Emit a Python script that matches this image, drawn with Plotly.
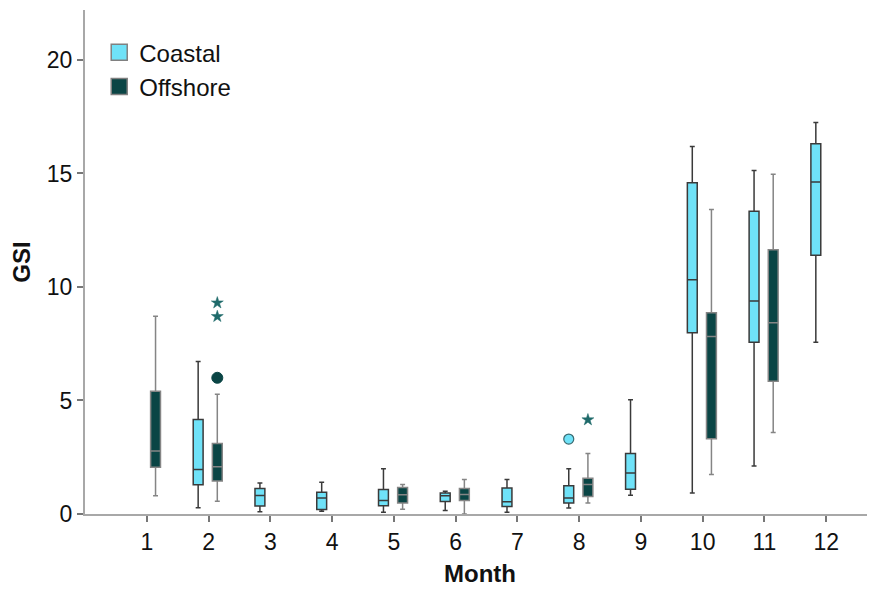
import plotly.graph_objects as go

# ---- data ----
coastal_months = [2, 3, 4, 5, 6, 7, 8, 9, 10, 11, 12]
coastal_lower  = [0.27, 0.10, 0.12, 0.08, 0.15, 0.08, 0.26, 0.83, 0.92, 2.11, 7.56]
coastal_q1     = [1.29, 0.35, 0.20, 0.36, 0.55, 0.33, 0.48, 1.09, 7.98, 7.57, 11.40]
coastal_median = [1.96, 0.81, 0.70, 0.59, 0.80, 0.54, 0.71, 1.81, 10.32, 9.38, 14.62]
coastal_q3     = [4.16, 1.12, 0.96, 1.08, 0.93, 1.14, 1.24, 2.67, 14.59, 13.33, 16.31]
coastal_upper  = [6.72, 1.37, 1.40, 1.99, 1.00, 1.52, 1.99, 5.03, 16.19, 15.13, 17.25]

offshore_months = [1, 2, 5, 6, 8, 10, 11]
offshore_lower  = [0.80, 0.56, 0.21, 0.00, 0.48, 1.74, 3.59]
offshore_q1     = [2.06, 1.45, 0.48, 0.59, 0.77, 3.31, 5.85]
offshore_median = [2.77, 2.08, 0.85, 0.86, 1.30, 7.82, 8.42]
offshore_q3     = [5.41, 3.11, 1.17, 1.12, 1.58, 8.86, 11.64]
offshore_upper  = [8.71, 5.28, 1.30, 1.52, 2.67, 13.41, 14.96]

# outliers (circles) and extremes (stars)
coastal_out_months = [8]
coastal_out_values = [3.30]
offshore_out_months = [2]
offshore_out_values = [6.00]
offshore_ext_months = [2, 2, 8]
offshore_ext_values = [9.30, 8.70, 4.15]

month_ticks = list(range(1, 13))
y_ticks = [0, 5, 10, 15, 20]

COASTAL_FILL = "#6fe2f8"
OFFSHORE_FILL = "#0a4545"
C_OFF = -0.168
O_OFF = 0.142
BW = 0.16

fig = go.Figure()

fig.add_trace(go.Box(
    name="Coastal", showlegend=False,
    x=[m + C_OFF for m in coastal_months],
    q1=coastal_q1, median=coastal_median, q3=coastal_q3,
    lowerfence=coastal_lower, upperfence=coastal_upper,
    width=BW, whiskerwidth=0.5,
    fillcolor=COASTAL_FILL,
    line=dict(color="#3a3a3a", width=1.5),
    boxpoints=False, hoverinfo="skip",
))
fig.add_trace(go.Box(
    name="Offshore", showlegend=False,
    x=[m + O_OFF for m in offshore_months],
    q1=offshore_q1, median=offshore_median, q3=offshore_q3,
    lowerfence=offshore_lower, upperfence=offshore_upper,
    width=BW, whiskerwidth=0.5,
    fillcolor=OFFSHORE_FILL,
    line=dict(color="#858585", width=1.5),
    boxpoints=False, hoverinfo="skip",
))

fig.add_trace(go.Scatter(
    x=[m + C_OFF for m in coastal_out_months], y=coastal_out_values,
    mode="markers", showlegend=False, hoverinfo="skip",
    marker=dict(symbol="circle", size=10, color=COASTAL_FILL,
                line=dict(color="#3a6a70", width=1.2)),
))
fig.add_trace(go.Scatter(
    x=[m + O_OFF for m in offshore_out_months], y=offshore_out_values,
    mode="markers", showlegend=False, hoverinfo="skip",
    marker=dict(symbol="circle", size=11, color=OFFSHORE_FILL,
                line=dict(color=OFFSHORE_FILL, width=1)),
))
fig.add_trace(go.Scatter(
    x=[m + O_OFF for m in offshore_ext_months], y=offshore_ext_values,
    mode="markers", showlegend=False, hoverinfo="skip",
    marker=dict(symbol="star", size=9, color="#1f6a6a",
                line=dict(color="#1f6a6a", width=0.5)),
))

# legend swatches
for name, col in [("Coastal", COASTAL_FILL), ("Offshore", OFFSHORE_FILL)]:
    fig.add_trace(go.Scatter(
        x=[None], y=[None], name=name, mode="markers", hoverinfo="skip",
        marker=dict(symbol="square", size=20, color=col,
                    line=dict(color="#808080", width=1.5)),
    ))

axis_line = dict(showline=True, linecolor="#a8a8a8", linewidth=2,
                 ticks="outside", ticklen=6, tickcolor="#777", tickwidth=1.5,
                 showgrid=False, zeroline=False, tickfont=dict(size=23))

# the page body adds an 8px margin, so the figure is sized to fill the rest
fig.update_layout(
    width=867, height=581,
    margin=dict(l=77, r=0, t=2, b=75),
    paper_bgcolor="white", plot_bgcolor="white",
    font=dict(family="Liberation Sans, Arial, sans-serif", size=22, color="#111111"),
    showlegend=True,
    legend=dict(x=0.018, y=0.96, xanchor="left", yanchor="top",
                bgcolor="rgba(0,0,0,0)", font=dict(size=24),
                itemsizing="trace", tracegroupgap=0, itemwidth=30),
    xaxis=dict(range=[0, 12.79], tickmode="array", tickvals=month_ticks,
               ticktext=[str(m) for m in month_ticks],
               title=dict(text="<b>Month</b>", standoff=12, font=dict(size=24)),
               **axis_line),
    yaxis=dict(range=[0, 22.2], tickmode="array", tickvals=y_ticks,
               title=dict(text="<b>GSI</b>", standoff=10, font=dict(size=24)),
               **axis_line),
)

fig.write_html("out.html")
